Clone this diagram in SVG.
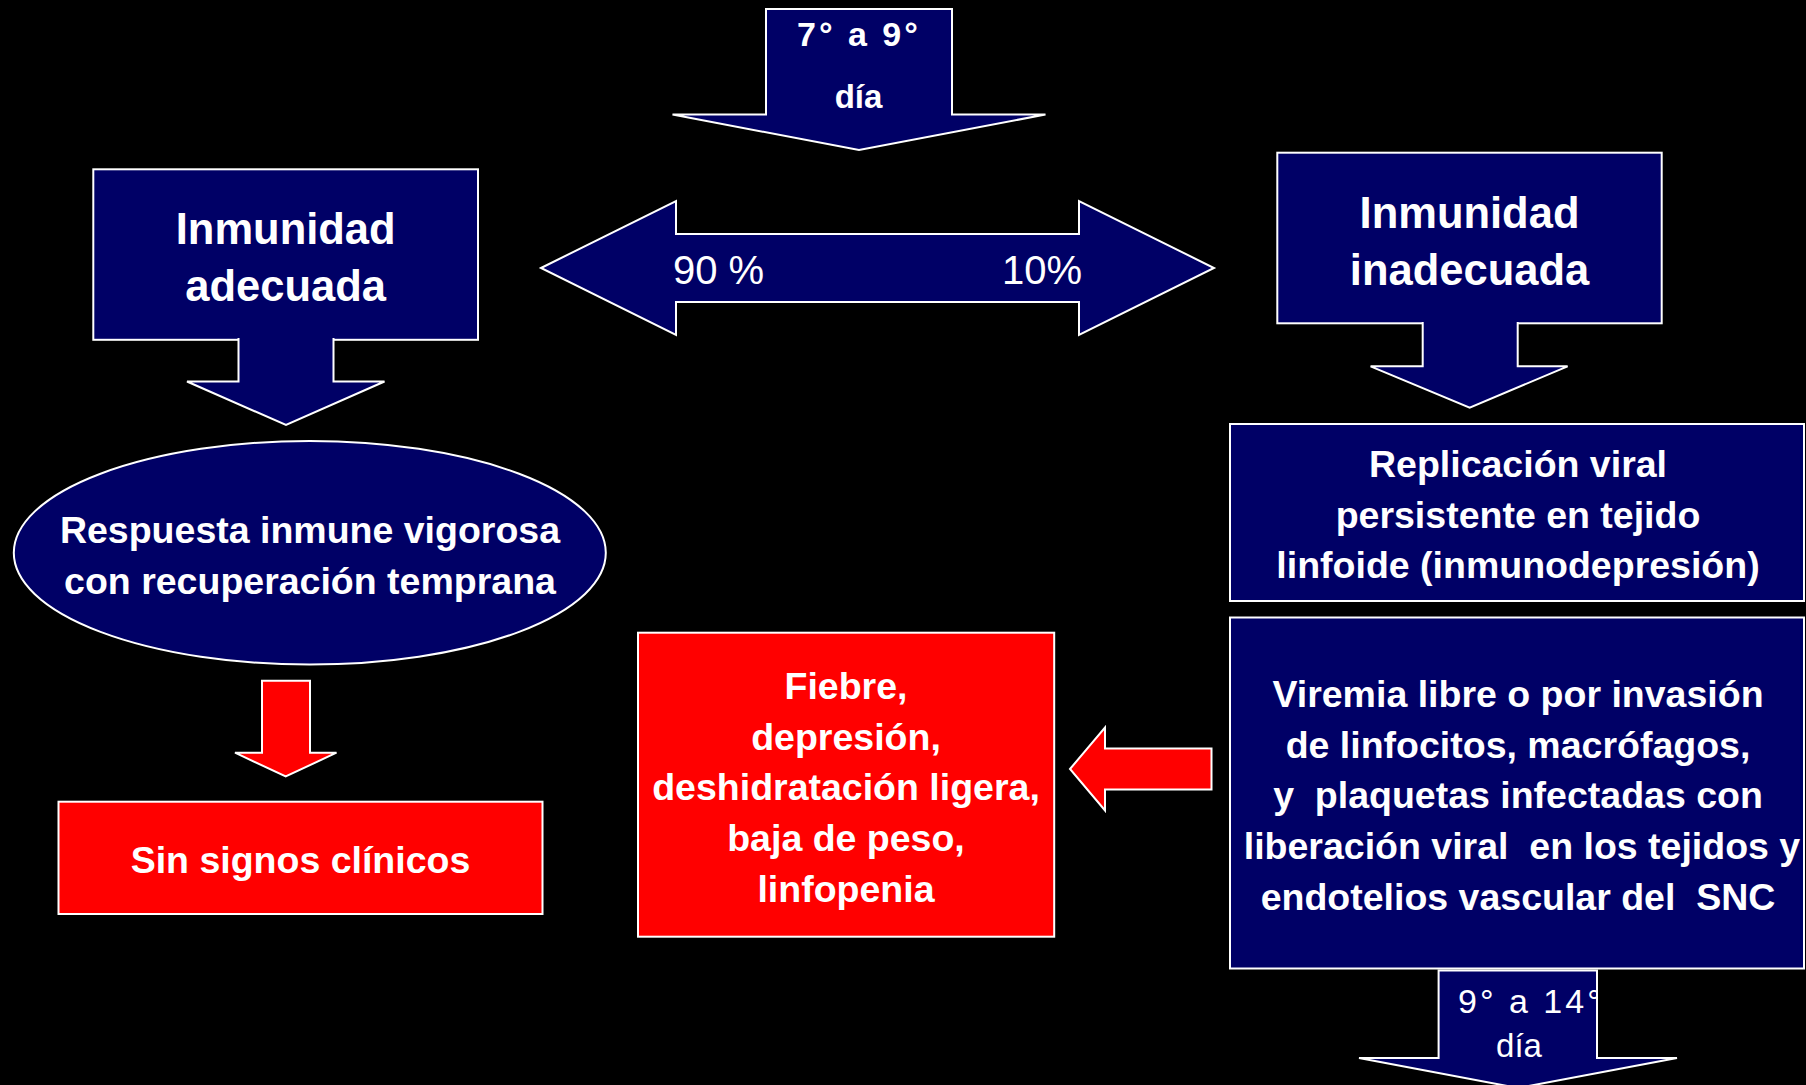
<svg xmlns="http://www.w3.org/2000/svg" width="1806" height="1085" viewBox="0 0 1806 1085">
<style>
.bg{fill:#000000}
.nv{fill:#000066;stroke:#ffffff;stroke-width:2}
.rd{fill:#ff0000;stroke:#ffffff;stroke-width:2}
.t{font-family:"Liberation Sans",Arial,sans-serif;fill:#ffffff;text-anchor:middle}
.b{font-weight:bold;font-size:37.5px}
.big{font-weight:bold;font-size:43.5px}
.pct{font-size:40px;text-anchor:start}
.pre{white-space:pre}
</style>
<defs>
<clipPath id="clipBottom">
<polygon points="1438.6,970.5 1597,970.5 1597,1058 1677,1058 1518,1088 1359,1058 1438.6,1058"/>
</clipPath>
</defs>
<rect class="bg" x="0" y="0" width="1806" height="1085"/>

<g id="connectors">
<g id="arrow-top-day7-9">
<polygon class="nv" points="766,9 952,9 952,114.5 1045.5,114.5 859,150 672.5,114.5 766,114.5"/>
<text class="t" x="797" y="46" style="text-anchor:start;font-weight:bold;font-size:34px;letter-spacing:3px">7° a 9°</text>
<text class="t" x="858.5" y="108" style="font-weight:bold;font-size:33px">día</text>
</g>
<g id="arrow-split">
<polygon class="nv" points="541,268 676,201 676,234 1079,234 1079,201 1214,268 1079,335 1079,302 676,302 676,335"/>
<text class="t pct" x="673" y="284">90 %</text>
<text class="t pct" x="1002" y="284">10%</text>
</g>
<g id="arrow-ellipse-to-sin">
<polygon class="rd" points="262,680.7 310,680.7 310,752.7 336.5,752.7 285.7,776.5 235,752.7 262,752.7"/>
</g>
<g id="arrow-viremia-to-fiebre">
<polygon class="rd" points="1070,769 1105,727.5 1105,748.5 1211.5,748.5 1211.5,789.5 1105,789.5 1105,810.5"/>
</g>
<g id="arrow-bottom-day9-14">
<polygon class="nv" points="1438.6,970.5 1597,970.5 1597,1058 1677,1058 1518,1088 1359,1058 1438.6,1058"/>
<g clip-path="url(#clipBottom)">
<text class="t" x="1458" y="1013" style="text-anchor:start;font-size:34px;letter-spacing:3px">9° a 14°</text>
</g>
<text class="t" x="1519" y="1057" style="font-size:33px">día</text>
</g>
</g>

<g id="node-inmunidad-adecuada">
<rect class="nv" x="93.3" y="169.3" width="384.7" height="170.5"/>
<path class="nv" d="M238.5,338 V381.5 H187 L286,425 L384.5,381.5 H333.5 V338"/>
<text class="t big" x="285.7" y="244.3">Inmunidad</text>
<text class="t big" x="285.7" y="301">adecuada</text>
</g>

<g id="node-inmunidad-inadecuada">
<rect class="nv" x="1277.3" y="152.7" width="384.4" height="170.6"/>
<path class="nv" d="M1422.7,322 V366.3 H1370.6 L1469.7,407.7 L1567.6,366.3 H1517.7 V322"/>
<text class="t big" x="1469.5" y="228.3">Inmunidad</text>
<text class="t big" x="1469.5" y="285">inadecuada</text>
</g>

<g id="node-respuesta">
<ellipse class="nv" cx="309.8" cy="552.8" rx="296" ry="111.8"/>
<text class="t b" x="310" y="542.7">Respuesta inmune vigorosa</text>
<text class="t b" x="310" y="594">con recuperación temprana</text>
</g>

<g id="node-sin-signos">
<rect class="rd" x="58.5" y="801.7" width="484" height="112.3"/>
<text class="t b" x="300.5" y="873.3">Sin signos clínicos</text>
</g>

<g id="node-replicacion">
<rect class="nv" x="1230" y="424" width="574" height="177"/>
<text class="t b" x="1518" y="477">Replicación viral</text>
<text class="t b" x="1518" y="527.7">persistente en tejido</text>
<text class="t b" x="1518" y="578.4">linfoide (inmunodepresión)</text>
</g>

<g id="node-viremia">
<rect class="nv" x="1230" y="617.5" width="574" height="351"/>
<text class="t b" x="1518" y="707">Viremia libre o por invasión</text>
<text class="t b" x="1518" y="757.7">de linfocitos, macrófagos,</text>
<text class="t b pre" x="1518" y="808.4">y  plaquetas infectadas con</text>
<text class="t b pre" x="1522" y="859">liberación viral  en los tejidos y</text>
<text class="t b pre" x="1518" y="909.8">endotelios vascular del  SNC</text>
</g>

<g id="node-fiebre">
<rect class="rd" x="638" y="632.7" width="416.2" height="304"/>
<text class="t b" x="846" y="699">Fiebre,</text>
<text class="t b" x="846" y="749.5">depresión,</text>
<text class="t b" x="846" y="800">deshidratación ligera,</text>
<text class="t b" x="846" y="850.7">baja de peso,</text>
<text class="t b" x="846" y="901.5">linfopenia</text>
</g>
</svg>
